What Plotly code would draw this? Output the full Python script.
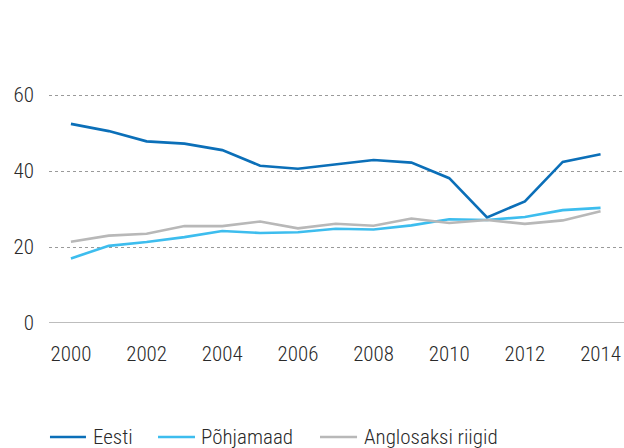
import plotly.graph_objects as go

years = list(range(2000, 2015))
eesti = [52.4, 50.5, 47.8, 47.2, 45.5, 41.4, 40.6, 41.8, 42.9, 42.2, 38.1, 27.8, 32.0, 42.4, 44.4]
pohjamaad = [17.0, 20.3, 21.3, 22.6, 24.2, 23.7, 23.9, 24.8, 24.6, 25.7, 27.3, 27.1, 27.9, 29.7, 30.3]
anglosaksi = [21.4, 23.0, 23.5, 25.5, 25.5, 26.7, 24.9, 26.1, 25.6, 27.5, 26.3, 27.1, 26.1, 27.0, 29.4]
series_names = ["Eesti", "Põhjamaad", "Anglosaksi riigid"]
colors = ["#0b6fb8", "#3dbdee", "#b8b8b8"]
x_ticks = list(range(2000, 2015, 2))
y_ticks = [0, 20, 40, 60]

font_family = "Roboto Condensed, Roboto, sans-serif"
txt_col = "#2a2a2a"
fsize = 21

fig = go.Figure()
for name, vals, col in zip(series_names, [eesti, pohjamaad, anglosaksi], colors):
    fig.add_trace(go.Scatter(x=years, y=vals, mode="lines", name=name,
                             line=dict(color=col, width=2.6), showlegend=False))

fig.update_layout(
    width=624, height=448,
    margin=dict(l=49, r=0, t=57, b=125),
    paper_bgcolor="white", plot_bgcolor="white",
    font=dict(family=font_family, size=fsize, color=txt_col, weight=300),
    showlegend=False,
    xaxis=dict(range=[1999.42, 2014.62], tickmode="array", tickvals=x_ticks,
               ticktext=[str(v) for v in x_ticks], showgrid=False, zeroline=False,
               showline=False, ticks="", ticklabelstandoff=16,
               tickfont=dict(size=fsize, color=txt_col, weight=300)),
    yaxis=dict(range=[0, 70], tickmode="array", tickvals=y_ticks,
               ticktext=[str(v) for v in y_ticks], showgrid=True,
               gridcolor="#9a9a9a", griddash="dot", gridwidth=1,
               zeroline=False, showline=False, ticks="", ticklabelstandoff=14,
               tickfont=dict(size=fsize, color=txt_col, weight=300)),
)
fig.add_hline(y=0, line=dict(color="#bdbdbd", width=2))

# manual legend (paper coordinates)
leg_y = -0.4286
leg_lines = [(0.0017, 0.0643), (0.1896, 0.2539), (0.4713, 0.5357)]
leg_text_x = [0.0730, 0.2610, 0.5445]
for name, col, (x0, x1), tx in zip(series_names, colors, leg_lines, leg_text_x):
    fig.add_shape(type="line", xref="paper", yref="paper", x0=x0, x1=x1,
                  y0=leg_y, y1=leg_y, line=dict(color=col, width=2.6))
    fig.add_annotation(text=name, xref="paper", yref="paper", x=tx, y=leg_y,
                       xanchor="left", yanchor="middle", showarrow=False,
                       font=dict(size=fsize, color=txt_col, family=font_family, weight=300))

fig.write_html("out.html", config={"displayModeBar": False},
               post_script="document.body.style.margin='0';document.body.style.padding='0';")
